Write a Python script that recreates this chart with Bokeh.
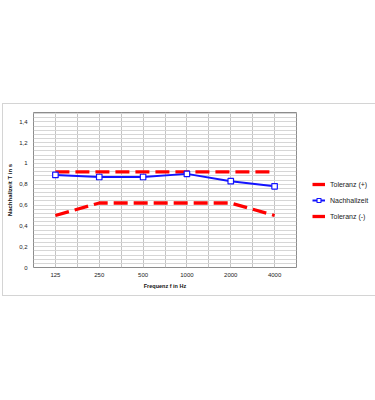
from bokeh.plotting import figure
from bokeh.models import (Range1d, FixedTicker, Grid, Legend, LegendItem,
                          SingleIntervalTicker, ColumnDataSource)
from bokeh.embed import file_html
from bokeh.resources import INLINE

freqs = ["125", "250", "500", "1000", "2000", "4000"]
tol_plus = [0.92, 0.92, 0.92, 0.92, 0.92, 0.92]
nachhall = [0.89, 0.87, 0.87, 0.90, 0.83, 0.78]
tol_minus = [0.50, 0.62, 0.62, 0.62, 0.62, 0.50]
y_ticks = [0, 0.2, 0.4, 0.6, 0.8, 1.0, 1.2, 1.4]
y_labels = ["0", "0,2", "0,4", "0,6", "0,8", "1", "1,2", "1,4"]

xpos = [i + 0.5 for i in range(len(freqs))]
FONT = "Liberation Sans"

p = figure(frame_width=263, frame_height=155, output_backend="svg", toolbar_location=None,
           x_range=Range1d(0, len(freqs)), y_range=Range1d(0, 1.49),
           min_border_left=30, min_border_right=76, min_border_top=8, min_border_bottom=28,
           margin=(103, 2, 104, 2), styles={"border": "1px solid #d4d4d4"})
p.background_fill_color = "white"
p.border_fill_color = "white"
p.outline_line_color = "#8c8c8c"
p.outline_line_width = 1

# x axis
p.xaxis.ticker = FixedTicker(ticks=xpos)
p.xaxis.major_label_overrides = {x: f for x, f in zip(xpos, freqs)}
p.xaxis.axis_label = "Frequenz f in Hz"
p.xaxis.axis_line_color = None
p.xaxis.major_tick_line_color = None
p.xaxis.minor_tick_line_color = None
p.xaxis.major_tick_out = 0
p.xaxis.major_tick_in = 0
p.xaxis.major_label_text_font_size = "6px"
p.xaxis.major_label_text_font = FONT
p.xaxis.major_label_text_color = "#222222"
p.xaxis.major_label_standoff = 5
p.xaxis.axis_label_text_font_size = "5.5px"
p.xaxis.axis_label_text_font = FONT
p.xaxis.axis_label_text_font_style = "bold"
p.xaxis.axis_label_text_color = "#111111"
p.xaxis.axis_label_standoff = 3

# y axis
p.yaxis.ticker = FixedTicker(ticks=y_ticks)
p.yaxis.major_label_overrides = {t: l for t, l in zip(y_ticks, y_labels)}
p.yaxis.axis_label = "Nachhallzeit T in s"
p.yaxis.axis_line_color = None
p.yaxis.major_tick_line_color = None
p.yaxis.minor_tick_line_color = None
p.yaxis.major_tick_out = 0
p.yaxis.major_tick_in = 0
p.yaxis.major_label_text_font_size = "6px"
p.yaxis.major_label_text_font = FONT
p.yaxis.major_label_text_color = "#222222"
p.yaxis.major_label_standoff = 6
p.yaxis.axis_label_text_font_size = "6px"
p.yaxis.axis_label_text_font = FONT
p.yaxis.axis_label_text_font_style = "bold"
p.yaxis.axis_label_text_color = "#111111"
p.yaxis.axis_label_standoff = 3

# grids
p.xgrid.visible = False
p.ygrid.visible = False
p.add_layout(Grid(dimension=0, ticker=SingleIntervalTicker(interval=0.5),
                  grid_line_color="#c4c4c4", grid_line_width=1))
p.add_layout(Grid(dimension=1, ticker=SingleIntervalTicker(interval=0.04),
                  grid_line_color="#d6d6d6", grid_line_width=1))

src = ColumnDataSource(dict(x=xpos, tp=tol_plus, n=nachhall, tm=tol_minus))
r_tp = p.line("x", "tp", source=src, line_color="#ff0000", line_width=3.3, line_dash="14 6")
r_tm = p.line("x", "tm", source=src, line_color="#ff0000", line_width=3.3, line_dash="14 6")
r_n = p.line("x", "n", source=src, line_color="#1414ff", line_width=2)
r_s = p.scatter("x", "n", source=src, marker="square", size=5.5, fill_color="white",
                line_color="#1414ff", line_width=1.2)

legend = Legend(items=[LegendItem(label="Toleranz (+)", renderers=[r_tp]),
                       LegendItem(label="Nachhallzeit", renderers=[r_n, r_s]),
                       LegendItem(label="Toleranz (-)", renderers=[r_tm])],
                location=(16, 46), border_line_color=None, background_fill_alpha=0,
                label_text_font=FONT, label_text_font_size="7px", label_text_color="#222222",
                glyph_width=13, glyph_height=10, label_standoff=5, spacing=6,
                padding=0, margin=0, label_height=10)
p.add_layout(legend, "right")

open("out.html", "w").write(file_html(p, INLINE))
